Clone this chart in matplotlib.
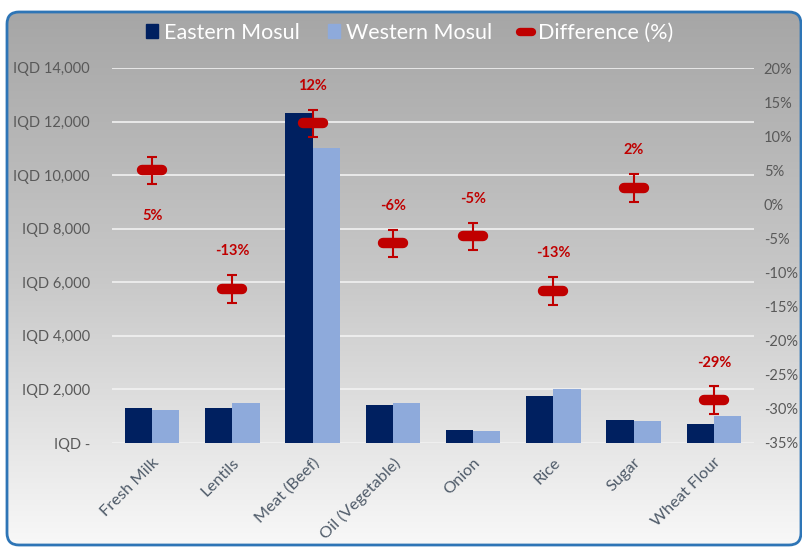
import numpy as np
import matplotlib
matplotlib.use('Agg')
import matplotlib.pyplot as plt
from matplotlib.patches import FancyBboxPatch, Patch
from matplotlib.lines import Line2D
from matplotlib.markers import MarkerStyle
from matplotlib.ticker import FuncFormatter, MultipleLocator

plt.rcParams['font.family'] = ['Lato', 'DejaVu Sans']

# data
items = ['Fresh Milk', 'Lentils', 'Meat (Beef)', 'Oil (Vegetable)',
         'Onion', 'Rice', 'Sugar', 'Wheat Flour']
eastern = [1310, 1310, 12330, 1420, 490, 1760, 855, 715]
western = [1220, 1500, 11000, 1500, 465, 2010, 820, 1005]
diff = [5.0, -12.4, 11.9, -5.7, -4.7, -12.7, 2.4, -28.7]
diff_labels = ['5%', '-13%', '12%', '-6%', '-5%', '-13%', '2%', '-29%']
diff_err = 2.0

# label placement (points, + above / - below the marker)
label_off = [-33, 27, 27, 27, 27, 27, 27, 27]

navy = '#002060'
light = '#8EAADB'
red = '#C00000'
tick_col = '#595959'

fig = plt.figure(figsize=(8.03, 5.47), dpi=100)

# background panel with grey-to-white gradient and blue rounded border
bg = fig.add_axes([0, 0, 1, 1])
bg.set_xlim(0, 803)
bg.set_ylim(547, 0)
bg.axis('off')
grad = np.linspace(0, 1, 256).reshape(-1, 1)
cmap = matplotlib.colors.LinearSegmentedColormap.from_list('g', ['#A6A6A6', '#C8C8C8', '#F8F8F8'])
im = bg.imshow(grad, extent=[6, 801, 545, 12], aspect='auto', cmap=cmap, origin='upper')
box = FancyBboxPatch((7, 12), 794, 533, boxstyle='round,pad=0,rounding_size=12',
                     facecolor='none', edgecolor='#2E75B6', linewidth=2)
bg.add_patch(box)
im.set_clip_path(box)

ax = fig.add_axes([112 / 803, 1 - 443 / 547, (754 - 112) / 803, (443 - 68) / 547])
ax.set_facecolor('none')
ax2 = ax.twinx()

x = np.arange(len(items))
w = 0.34
ax.bar(x - w / 2, eastern, w, color=navy, zorder=3)
ax.bar(x + w / 2, western, w, color=light, zorder=3)

ax.set_xlim(-0.5, len(items) - 0.5)
ax.set_ylim(0, 14000)
ax.yaxis.set_major_locator(MultipleLocator(2000))
ax.yaxis.set_major_formatter(FuncFormatter(lambda v, p: 'IQD -' if v == 0 else 'IQD {:,.0f}'.format(v)))
ax.grid(axis='y', color='#F2F2F2', linewidth=1.2, zorder=0)
ax.set_axisbelow(True)
for s in ax.spines.values():
    s.set_visible(False)
for s in ax2.spines.values():
    s.set_visible(False)
ax.tick_params(axis='y', length=0, pad=16, labelsize=10.5, labelcolor=tick_col)
ax.set_xticks(x)
ax.set_xticklabels(items, rotation=45, ha='right', rotation_mode='anchor',
                   fontsize=11.8, color='#4F5B69')
ax.tick_params(axis='x', length=0, pad=9)

pill = MarkerStyle('_', capstyle='round')
ax2.errorbar(x, diff, yerr=diff_err, fmt='none', ecolor=red, elinewidth=1.5,
             capsize=3.5, capthick=1.5, zorder=4)
ax2.plot(x, diff, linestyle='none', marker=pill, markersize=14, markeredgewidth=7.5,
         color=red, zorder=5)
for xi, d, lab, off in zip(x, diff, diff_labels, label_off):
    ax2.annotate(lab, (xi, d), xytext=(0, off), textcoords='offset points',
                 ha='center', va='center', color=red, fontsize=10.5, fontweight='bold')
ax2.set_ylim(-35, 20)
ax2.yaxis.set_major_locator(MultipleLocator(5))
ax2.yaxis.set_major_formatter(FuncFormatter(lambda v, p: '{:.0f}%'.format(v)))
ax2.tick_params(axis='y', length=0, pad=7, labelsize=10.5, labelcolor=tick_col)

handles = [Patch(color=navy), Patch(color=light),
           Line2D([], [], linestyle='none', marker=pill, markersize=9,
                  markeredgewidth=6, color=red)]
leg = fig.legend(handles, ['Eastern Mosul', 'Western Mosul', 'Difference (%)'],
                 loc='center', bbox_to_anchor=(0.51, 0.94), ncol=3, frameon=False,
                 fontsize=15.5, labelcolor='white', handlelength=0.6, handleheight=0.6,
                 handletextpad=0.25, columnspacing=1.3)

plt.savefig('out.png', dpi=100)
